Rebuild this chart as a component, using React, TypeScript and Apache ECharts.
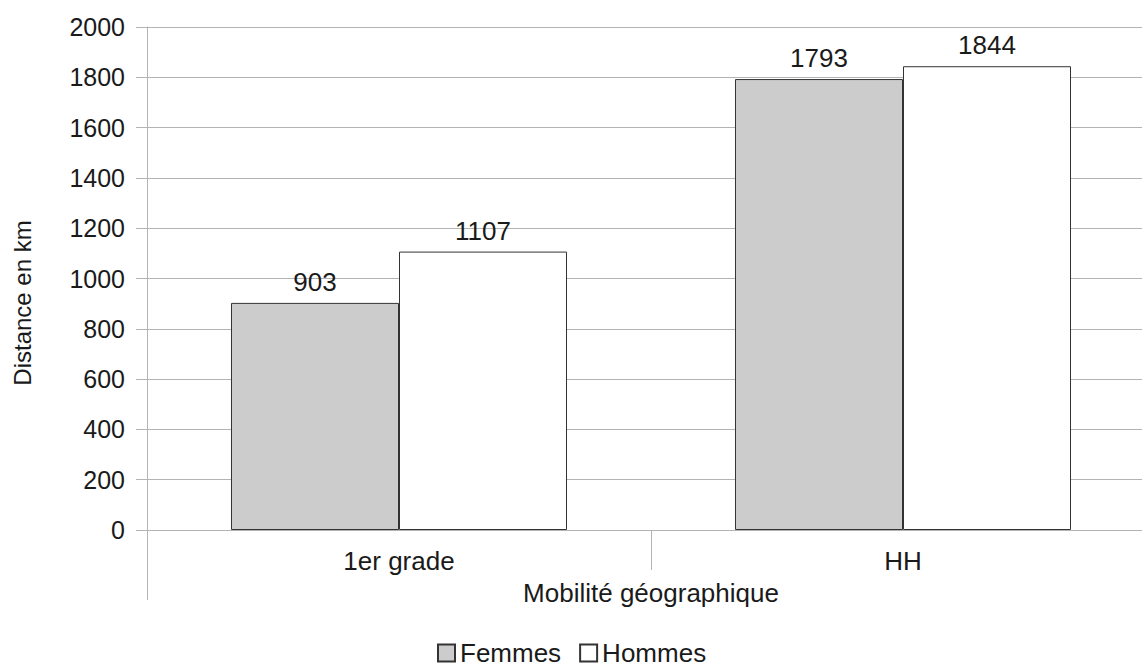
import React, { useEffect, useRef } from "react";
import * as echarts from "echarts";

const categories = ["1er grade", "HH"];
const femmes = [903, 1793];
const hommes = [1107, 1844];
const seriesNames = ["Femmes", "Hommes"];
const yTitle = "Distance en km";
const xTitle = "Mobilité géographique";

const FONT = "'Liberation Sans', Arial, sans-serif";
const GRID = "#b3b3b3";
const TEXT = "#1a1a1a";

export default function App() {
  const ref = useRef<HTMLDivElement>(null);
  useEffect(() => {
    if (!ref.current) return;
    const chart = echarts.init(ref.current, null, { renderer: "svg" });
    const label = {
      show: true,
      position: "top",
      distance: 8,
      color: TEXT,
      fontFamily: FONT,
      fontSize: 26,
    };
    chart.setOption({
      animation: false,
      textStyle: { fontFamily: FONT },
      grid: { left: 147, right: 0, top: 27, bottom: 136 },
      legend: {
        left: 437,
        top: 640,
        padding: 0,
        itemWidth: 17,
        itemHeight: 17,
        itemGap: 18,
        icon: "rect",
        textStyle: { fontFamily: FONT, fontSize: 26, lineHeight: 22, color: TEXT },
        data: seriesNames,
      },
      graphic: [
        {
          type: "text",
          x: 22,
          y: 303,
          rotation: Math.PI / 2,
          style: {
            text: yTitle,
            fontFamily: FONT,
            fontSize: 24,
            fill: TEXT,
            align: "center",
            verticalAlign: "middle",
          },
        },
      ],
      xAxis: [
        {
          type: "category",
          data: categories,
          axisLine: { show: true, lineStyle: { color: GRID, width: 1 } },
          axisTick: { show: true, length: 40, lineStyle: { color: GRID } },
          axisLabel: { margin: 18, color: TEXT, fontFamily: FONT, fontSize: 26 },
          name: xTitle,
          nameLocation: "middle",
          nameGap: 50,
          nameTextStyle: { color: TEXT, fontFamily: FONT, fontSize: 26 },
        },
        {
          type: "value",
          position: "bottom",
          min: 0,
          max: 1,
          interval: 1,
          axisLine: { show: false },
          axisTick: { show: true, length: 70, lineStyle: { color: GRID } },
          axisLabel: { show: false },
          splitLine: { show: false },
        },
      ],
      yAxis: {
        type: "value",
        min: 0,
        max: 2000,
        interval: 200,
        axisLine: { show: true, lineStyle: { color: GRID } },
        axisTick: { show: true, length: 11, lineStyle: { color: GRID } },
        axisLabel: {
          margin: 22,
          color: TEXT,
          fontFamily: FONT,
          fontSize: 25,
          formatter: (v: number) => String(v),
        },
        splitLine: { show: true, lineStyle: { color: GRID, width: 1 } },
      },
      series: [
        {
          name: seriesNames[0],
          type: "bar",
          data: femmes,
          barGap: "0%",
          barCategoryGap: "33.33%",
          itemStyle: { color: "#cccccc", borderColor: "#333333", borderWidth: 1 },
          label,
        },
        {
          name: seriesNames[1],
          type: "bar",
          data: hommes,
          barGap: "0%",
          barCategoryGap: "33.33%",
          itemStyle: { color: "#ffffff", borderColor: "#333333", borderWidth: 1 },
          label,
        },
      ],
    });
    return () => chart.dispose();
  }, []);
  return (
    <div
      style={{
        position: "absolute",
        left: 0,
        top: 0,
        width: 1142,
        height: 666,
        overflow: "hidden",
        background: "#fff",
      }}
    >
      <div ref={ref} style={{ width: 1155, height: 666 }} />
    </div>
  );
}
